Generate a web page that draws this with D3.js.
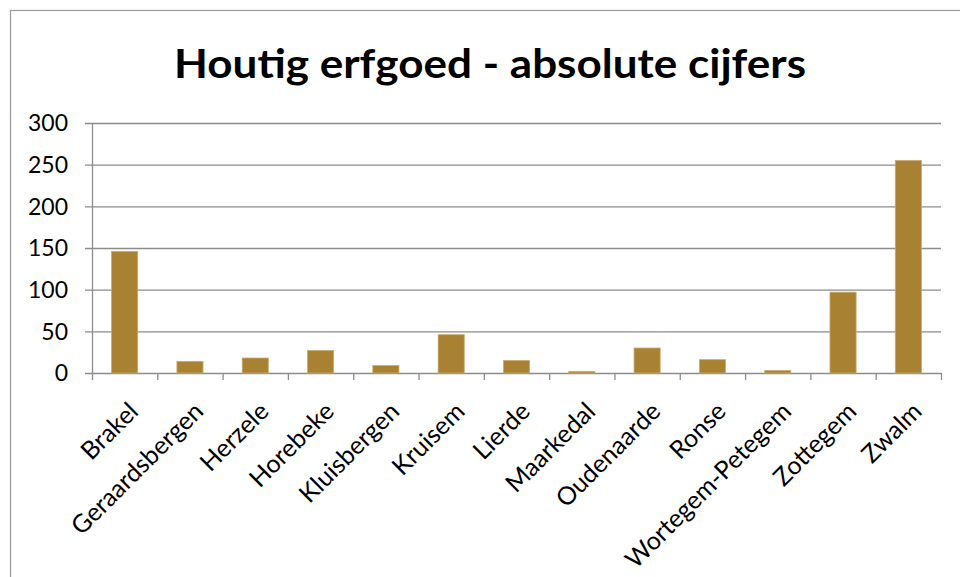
<!DOCTYPE html>
<html>
<head>
<meta charset="utf-8">
<script src="https://cdn.jsdelivr.net/npm/d3@7"></script>
<style>
  body { margin: 0; background: #fff; }
  text { font-family: Lato, "Open Sans", sans-serif; fill: #000; }
</style>
</head>
<body>
<svg id="chart" width="960" height="577"></svg>
<script>
// data
const gemeenten = ["Brakel", "Geraardsbergen", "Herzele", "Horebeke", "Kluisbergen", "Kruisem",
  "Lierde", "Maarkedal", "Oudenaarde", "Ronse", "Wortegem-Petegem", "Zottegem", "Zwalm"];
const aantallen = [146, 14, 18, 27, 9, 46, 15, 2, 30, 16, 3, 97, 255];
const yTicks = [0, 50, 100, 150, 200, 250, 300];
const titel = "Houtig erfgoed - absolute cijfers";

const svg = d3.select("#chart");
const margin = { top: 123, left: 92, right: 19, bottom: 204 };
const width = 960, height = 577;
const innerW = width - margin.left - margin.right;
const innerH = height - margin.top - margin.bottom;

// chart frame
svg.append("rect")
  .attr("x", 10.5).attr("y", 10.5)
  .attr("width", 960).attr("height", 600)
  .attr("fill", "none")
  .attr("stroke", "#9a9a9a")
  .attr("stroke-width", 1.2);

svg.append("text")
  .attr("x", 490)
  .attr("y", 78)
  .attr("text-anchor", "middle")
  .attr("textLength", 632)
  .attr("lengthAdjust", "spacingAndGlyphs")
  .style("font-size", "40px")
  .style("font-weight", "bold")
  .text(titel);

const g = svg.append("g").attr("transform", `translate(${margin.left},${margin.top})`);

const x = d3.scaleBand().domain(gemeenten).range([0, innerW]).paddingInner(0.6).paddingOuter(0.3);
const y = d3.scaleLinear().domain([0, 300]).range([innerH, 0]);

// gridlines + y ticks
g.selectAll(".grid")
  .data(yTicks)
  .join("line")
  .attr("class", "grid")
  .attr("x1", -7).attr("x2", innerW)
  .attr("y1", d => y(d) + 0.5).attr("y2", d => y(d) + 0.5)
  .attr("stroke", "#8c8c8c")
  .attr("stroke-width", 1.3);

g.selectAll(".ylab")
  .data(yTicks)
  .join("text")
  .attr("class", "ylab")
  .attr("x", -24)
  .attr("y", d => y(d))
  .attr("dy", "0.36em")
  .attr("text-anchor", "end")
  .style("font-size", "23px")
  .text(d => d);

// y axis line
g.append("line")
  .attr("x1", 0.5).attr("x2", 0.5)
  .attr("y1", 0).attr("y2", innerH)
  .attr("stroke", "#8c8c8c").attr("stroke-width", 1.3);

// x ticks at category boundaries
const bounds = d3.range(gemeenten.length + 1).map(i => i * innerW / gemeenten.length);
g.selectAll(".xtick")
  .data(bounds)
  .join("line")
  .attr("class", "xtick")
  .attr("x1", d => d + 0.5).attr("x2", d => d + 0.5)
  .attr("y1", innerH).attr("y2", innerH + 7)
  .attr("stroke", "#8c8c8c").attr("stroke-width", 1.3);

// bars
g.selectAll(".bar")
  .data(gemeenten)
  .join("rect")
  .attr("class", "bar")
  .attr("x", d => x(d))
  .attr("width", x.bandwidth())
  .attr("y", (d, i) => y(aantallen[i]))
  .attr("height", (d, i) => innerH - y(aantallen[i]))
  .attr("fill", "#a88232")
  .attr("stroke", "#c9ab6e")
  .attr("stroke-width", 0.8);

// rotated category labels
g.selectAll(".xlab")
  .data(gemeenten)
  .join("text")
  .attr("class", "xlab")
  .attr("text-anchor", "end")
  .style("font-size", "25px")
  .attr("transform", d => {
    const cx = x(d) + x.bandwidth() / 2 + 15;
    return `translate(${cx},${innerH + 40}) rotate(-45)`;
  })
  .text(d => d);
</script>
</body>
</html>
